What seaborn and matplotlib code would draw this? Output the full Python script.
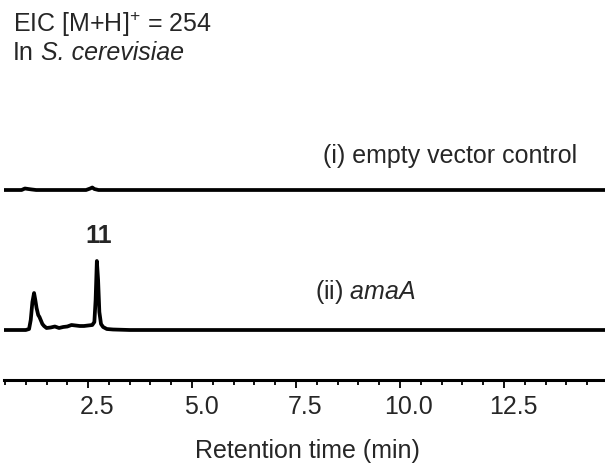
import matplotlib
matplotlib.use("Agg")
import matplotlib.pyplot as plt
import matplotlib.transforms as mtransforms
from matplotlib.ticker import MultipleLocator, FixedLocator, FixedFormatter
import numpy as np
import pandas as pd
import seaborn as sns

# Extracted ion chromatograms, [M+H]+ = 254 (retention time in min, signal in a.u.)
time_control = [0.48, 0.90, 0.98, 1.06, 1.15, 1.25, 2.45, 2.55, 2.60, 2.65, 2.75, 14.93]
signal_control = [0, 0, 1.5, 1.0, 0.5, 0, 0, 1.5, 2.5, 1.0, 0, 0]

time_amaA = [0.48, 1.00, 1.08, 1.12, 1.16, 1.20, 1.23, 1.26, 1.30, 1.33, 1.36, 1.40,
             1.44, 1.50, 1.60, 1.70, 1.80, 1.90, 2.00, 2.10, 2.20, 2.30, 2.40, 2.50,
             2.60, 2.65, 2.68, 2.71, 2.74, 2.77, 2.81, 2.86, 2.95, 3.10, 3.50, 14.93]
signal_amaA = [0, 0, 1, 10, 28, 37, 30, 22, 15, 13, 10, 6,
               4, 2, 2.5, 3.5, 2, 3, 3.5, 5, 4.5, 4, 4, 4.5,
               5, 8, 30, 69, 50, 18, 6, 3, 1, 0.5, 0, 0]

trace_names = ["(i) empty vector control", "(ii) amaA"]
trace_offsets = [140, 0]

major_ticks = [2.5, 5.0, 7.5, 10.0, 12.5]
major_labels = ["2.5", "5.0", "7.5", "10.0", "12.5"]

df = pd.concat([
    pd.DataFrame({"time": time_control,
                  "signal": np.array(signal_control) + trace_offsets[0],
                  "trace": trace_names[0]}),
    pd.DataFrame({"time": time_amaA,
                  "signal": np.array(signal_amaA) + trace_offsets[1],
                  "trace": trace_names[1]}),
])

sns.set_theme(style="white")
plt.rcParams["font.family"] = ["Liberation Sans", "DejaVu Sans"]
plt.rcParams["mathtext.fontset"] = "custom"
plt.rcParams["mathtext.rm"] = "Liberation Sans"
plt.rcParams["mathtext.it"] = "Liberation Sans:italic"
plt.rcParams["mathtext.bf"] = "Liberation Sans:bold"

fig = plt.figure(figsize=(6.05, 4.70), dpi=100)
W, H = 605, 470
ax = fig.add_axes([4 / W, (H - 380) / H, 601 / W, 230 / H])

sns.lineplot(data=df, x="time", y="signal", hue="trace",
             palette={trace_names[0]: "black", trace_names[1]: "black"},
             estimator=None, sort=False, legend=False, linewidth=2.7, ax=ax)

ax.set_xlim(0.477, 14.93)
ax.set_ylim(-50, 180)

for side in ["top", "right", "left"]:
    ax.spines[side].set_visible(False)
ax.spines["bottom"].set_linewidth(2.2)
ax.spines["bottom"].set_color("black")

ax.xaxis.set_major_locator(FixedLocator(major_ticks))
ax.xaxis.set_major_formatter(FixedFormatter(major_labels))
ax.xaxis.set_minor_locator(MultipleLocator(0.5))
ax.tick_params(axis="x", which="major", direction="out", length=6, width=1.3,
               color="black", labelsize=18, pad=5, bottom=True)
ax.tick_params(axis="x", which="minor", direction="out", length=3.8, width=1.3,
               color="black", bottom=True)
ax.set_yticks([])
ax.set_xlabel("")
ax.set_ylabel("")

# tick labels sit slightly right of their ticks
shift = mtransforms.ScaledTranslation(9 / 100, 0, fig.dpi_scale_trans)
for lbl in ax.get_xticklabels():
    lbl.set_transform(lbl.get_transform() + shift)

fs = 18
fig.text(13 / W, 1 - 32 / H, r"EIC [M+H]$^{+}$ = 254", fontsize=fs, va="baseline", ha="left")
fig.text(13 / W, 1 - 60 / H, "In", fontsize=fs, va="baseline", ha="left")
fig.text(41 / W, 1 - 60 / H, "S. cerevisiae", fontsize=fs, fontstyle="italic",
         va="baseline", ha="left")
fig.text(577 / W, 1 - 163 / H, "(i) empty vector control", fontsize=fs, va="baseline", ha="right")
fig.text(315 / W, 1 - 299 / H, r"(ii) $\mathit{amaA}$", fontsize=fs, va="baseline", ha="left")
fig.text(98.5 / W, 1 - 243 / H, "11", fontsize=fs, fontweight="bold", va="baseline", ha="center")
fig.text(307 / W, 1 - 458 / H, "Retention time (min)", fontsize=fs, va="baseline", ha="center")

fig.savefig("out.png", dpi=100, facecolor="white")
